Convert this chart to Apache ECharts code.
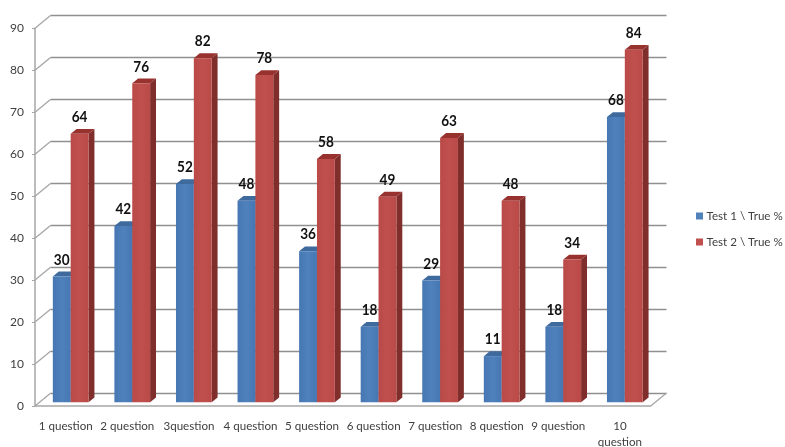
<!DOCTYPE html>
<html><head><meta charset="utf-8">
<style>html,body{margin:0;padding:0;background:#fff}#c{width:785px;height:447px}</style>
<script src="https://cdn.jsdelivr.net/npm/echarts@6/dist/echarts.min.js"></script>
</head><body><div id="c"></div>
<script>
const categories = ['1 question','2 question','3question','4 question','5 question','6 question','7 question','8 question','9 question','10 question'];
const test1 = [30,42,52,48,36,18,29,11,18,68];
const test2 = [64,76,82,78,58,49,63,48,34,84];
const yTicks = [0,10,20,30,40,50,60,70,80,90];
const FONT = 'Lato';
const WALL = {dx:15.8, dy:-13};
const PLANE = {dx:4.9, dy:-3.7};
const DEPTH = {dx:5.9, dy:-4.8};
const BAR = 0.29;

function frontFill(edge, mid){
  return new echarts.graphic.LinearGradient(0,0,1,0,[
    {offset:0,color:edge},{offset:0.5,color:mid},{offset:1,color:edge}]);
}

function barSeries(name, values, side, front, edge, sideCol, topCol, z){
  return {
    name, type:'custom', coordinateSystem:'cartesian2d', xAxisIndex:0, yAxisIndex:0, z,
    itemStyle:{color:front},
    data: values.map((v,i)=>[i,v]),
    encode:{x:0,y:1},
    renderItem(params, api){
      const i=api.value(0), v=api.value(1);
      const t=api.coord([i,v]), b=api.coord([i,0]);
      const w=api.size([1,0])[0]*BAR;
      const x0=t[0]+PLANE.dx+(side<0?-w:0), x1=x0+w;
      const yt=t[1]+PLANE.dy, yb=b[1]+PLANE.dy;
      const dx=DEPTH.dx, dy=DEPTH.dy;
      return {type:'group',children:[
        {type:'polygon',shape:{points:[[x1,yt],[x1+dx,yt+dy],[x1+dx,yb+dy],[x1,yb]]},style:{fill:sideCol}},
        {type:'polygon',shape:{points:[[x0,yt],[x1,yt],[x1+dx,yt+dy],[x0+dx,yt+dy]]},style:{fill:topCol}},
        {type:'rect',shape:{x:x0,y:yt,width:w,height:yb-yt},style:{fill:frontFill(edge,front)}},
        {type:'text',x:(x0+x1)/2,y:yt-17,scaleX:0.85,style:{text:String(v),fill:'#111',font:'bold 16px '+FONT,align:'center',verticalAlign:'middle'}}
      ]};
    }
  };
}

const wallSeries = {
  type:'custom', coordinateSystem:'cartesian2d', xAxisIndex:0, yAxisIndex:0, z:1, silent:true,
  data: yTicks.map(v=>[0,v]), encode:{x:0,y:1},
  renderItem(params, api){
    const p=api.coord([0,api.value(1)]);
    const x=p[0]-api.size([1,0])[0]/2;
    const kids=[{type:'line',shape:{x1:x,y1:p[1],x2:x+WALL.dx,y2:p[1]+WALL.dy},style:{stroke:'#a6a6a6',lineWidth:1.3}}];
    if(api.value(1)===0){
      const e=api.coord([categories.length-1,0])[0]+api.size([1,0])[0]/2;
      kids.push({type:'line',shape:{x1:e,y1:p[1],x2:e+WALL.dx,y2:p[1]+WALL.dy},style:{stroke:'#a6a6a6',lineWidth:1.3}});
    }
    return {type:'group',children:kids};
  }
};

const chart = echarts.init(document.getElementById('c'),null,{renderer:'canvas'});
chart.setOption({
  animation:false, backgroundColor:'#fff',
  grid:[
    {left:35,top:28.3,width:615.7,height:377.7,outerBoundsMode:'none'},
    {left:50.8,top:15.3,width:615.7,height:377.7,outerBoundsMode:'none'}
  ],
  legend:{orient:'vertical',left:691,top:205,itemWidth:7,itemHeight:7,itemGap:14,icon:'rect',
    textStyle:{fontFamily:FONT,fontSize:11.6,color:'#404040',padding:[0,0,0,-1.5]},
    data:['Test 1 \\ True %','Test 2 \\ True %']},
  xAxis:[
    {type:'category',gridIndex:0,data:categories,
     axisLine:{lineStyle:{color:'#a6a6a6',width:1.5}},axisTick:{length:4,lineStyle:{color:'#a6a6a6'}},
     axisLabel:{interval:0,fontFamily:FONT,fontSize:11.6,color:'#404040',margin:12,lineHeight:16,
       formatter:v=>v==='10 question'?'10\nquestion':v},splitLine:{show:false}},
    {type:'category',gridIndex:1,data:categories,show:false}
  ],
  yAxis:[
    {type:'value',gridIndex:0,min:0,max:90,interval:10,
     axisLine:{show:true,lineStyle:{color:'#a6a6a6',width:1.5}},axisTick:{show:true,length:3,lineStyle:{color:'#a6a6a6'}},
     axisLabel:{fontFamily:FONT,fontSize:12,color:'#404040',margin:11},splitLine:{show:false}},
    {type:'value',gridIndex:1,min:0,max:90,interval:10,
     axisLine:{show:false},axisTick:{show:false},axisLabel:{show:false},
     splitLine:{show:true,lineStyle:{color:'#909090',width:1.3}}}
  ],
  series:[
    wallSeries,
    barSeries('Test 1 \\ True %',test1,-1,'#4f81bd','#4677b2','#3a6290','#3f6a9e',5),
    barSeries('Test 2 \\ True %',test2,1,'#c0504d','#b94a47','#7f2e2c','#98322f',6)
  ]
});
</script></body></html>
